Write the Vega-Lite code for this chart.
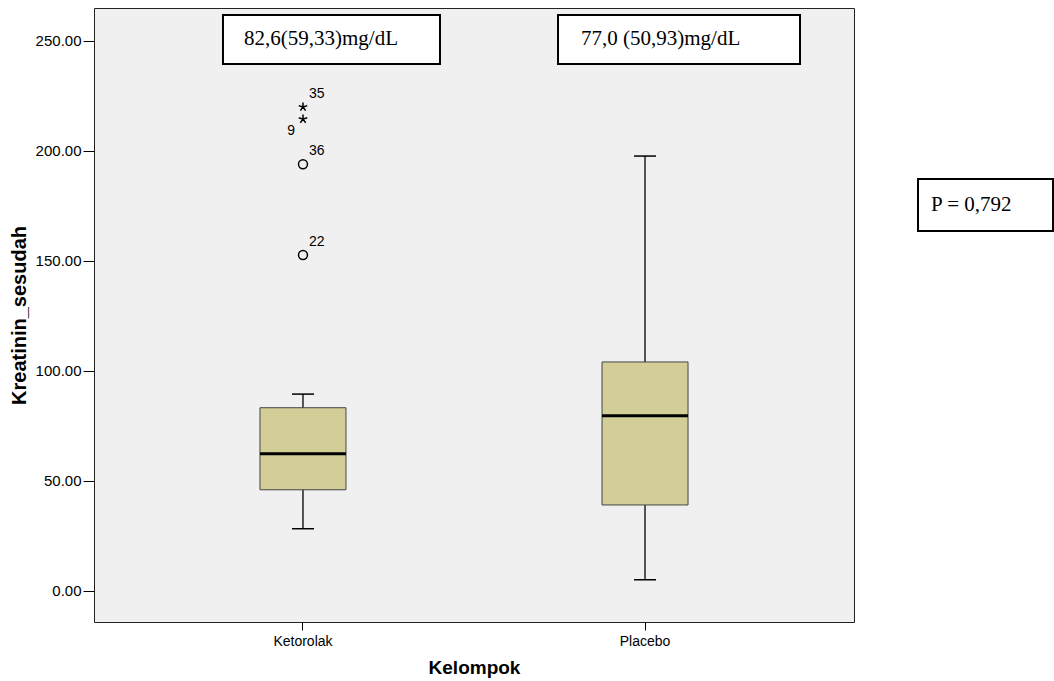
{
  "$schema": "https://vega.github.io/schema/vega-lite/v6.json",
  "padding": {"left": 8, "top": 7, "right": 0, "bottom": 0},
  "background": "white",
  "spacing": 64,
  "bounds": "flush",
  "config": {
    "view": {"fill": "#f0f0f0", "stroke": "#222222", "strokeWidth": 1},
    "font": "Liberation Sans",
    "axis": {"labelFont": "Liberation Sans", "titleFont": "Liberation Sans", "labelColor": "#000000", "titleColor": "#000000", "tickColor": "#000000", "grid": false, "domain": false}
  },
  "datasets": {
    "stats": [
      {"group": "Ketorolak", "lower": 28.3, "q1": 46.0, "median": 62.4, "q3": 83.3, "upper": 89.5},
      {"group": "Placebo", "lower": 5.1, "q1": 39.1, "median": 79.7, "q3": 104.1, "upper": 197.7}
    ],
    "outliers": [
      {"group": "Ketorolak", "id": "35", "value": 220.0, "kind": "extreme"},
      {"group": "Ketorolak", "id": "9", "value": 214.5, "kind": "extreme"},
      {"group": "Ketorolak", "id": "36", "value": 194.0, "kind": "outlier"},
      {"group": "Ketorolak", "id": "22", "value": 152.7, "kind": "outlier"}
    ],
    "annot": [
      {"group": "Ketorolak", "label": "82,6(59,33)mg/dL"},
      {"group": "Placebo", "label": "77,0 (50,93)mg/dL"}
    ],
    "pnote": [
      {"label": "P = 0,792"}
    ]
  },
  "hconcat": [
    {
      "width": 760,
      "height": 614,
      "encoding": {
        "x": {
          "field": "group", "type": "nominal", "title": "Kelompok",
          "scale": {"type": "band", "domain": ["Ketorolak", "Placebo"], "paddingInner": 0, "paddingOuter": 0.111},
          "axis": {"labelAngle": 0, "tickSize": 8, "labelFontSize": 14, "titleFontSize": 19, "titleFontWeight": "bold", "labelPadding": 4, "titlePadding": 10}
        }
      },
      "layer": [
        {
          "data": {"name": "stats"},
          "mark": {"type": "rule", "color": "#000000", "strokeWidth": 1.3},
          "encoding": {
            "y": {"field": "lower", "type": "quantitative", "title": "Kreatinin_sesudah",
              "scale": {"domain": [-14.1, 265], "nice": false, "zero": false},
              "axis": {"values": [0, 50, 100, 150, 200, 250], "format": ".2f", "tickSize": 11, "labelPadding": 2, "labelFontSize": 15, "titleFontSize": 20, "titleFontWeight": "bold", "titlePadding": 6}},
            "y2": {"field": "upper"}
          }
        },
        {
          "data": {"name": "stats"},
          "mark": {"type": "tick", "orient": "horizontal", "size": 22, "thickness": 1.5, "color": "#000000", "opacity": 1},
          "encoding": {"y": {"field": "lower", "type": "quantitative", "title": "Kreatinin_sesudah"}}
        },
        {
          "data": {"name": "stats"},
          "mark": {"type": "tick", "orient": "horizontal", "size": 22, "thickness": 1.5, "color": "#000000", "opacity": 1},
          "encoding": {"y": {"field": "upper", "type": "quantitative", "title": "Kreatinin_sesudah"}}
        },
        {
          "data": {"name": "stats"},
          "mark": {"type": "bar", "width": 86, "fill": "#d3ce97", "stroke": "#444444", "strokeWidth": 1},
          "encoding": {
            "y": {"field": "q1", "type": "quantitative", "title": "Kreatinin_sesudah"},
            "y2": {"field": "q3"}
          }
        },
        {
          "data": {"name": "stats"},
          "mark": {"type": "tick", "orient": "horizontal", "size": 86, "thickness": 3, "color": "#000000", "opacity": 1},
          "encoding": {"y": {"field": "median", "type": "quantitative", "title": "Kreatinin_sesudah"}}
        },
        {
          "data": {"name": "outliers"},
          "mark": {"type": "point", "filled": false, "color": "#000000", "strokeWidth": 1.5, "size": 80, "opacity": 1},
          "encoding": {
            "y": {"field": "value", "type": "quantitative", "title": "Kreatinin_sesudah"},
            "shape": {"field": "kind", "type": "nominal", "legend": null,
              "scale": {"domain": ["outlier", "extreme"], "range": ["circle", "M0,-1L0,0M0,0L0.95,-0.31M0,0L0.59,0.81M0,0L-0.59,0.81M0,0L-0.95,-0.31"]}}
          }
        },
        {
          "data": {"name": "outliers"},
          "transform": [{"filter": "datum.id != '9'"}],
          "mark": {"type": "text", "align": "left", "baseline": "middle", "dx": 6, "dy": -13, "fontSize": 14, "color": "#000000"},
          "encoding": {
            "y": {"field": "value", "type": "quantitative", "title": "Kreatinin_sesudah"},
            "text": {"field": "id"}
          }
        },
        {
          "data": {"name": "outliers"},
          "transform": [{"filter": "datum.id == '9'"}],
          "mark": {"type": "text", "align": "right", "baseline": "middle", "dx": -8, "dy": 12, "fontSize": 14, "color": "#000000"},
          "encoding": {
            "y": {"field": "value", "type": "quantitative", "title": "Kreatinin_sesudah"},
            "text": {"field": "id"}
          }
        },
        {
          "data": {"name": "annot"},
          "transform": [{"filter": "datum.group == 'Ketorolak'"}],
          "mark": {"type": "bar", "width": 217, "xOffset": 28.5, "fill": "white", "stroke": "#000000", "strokeWidth": 2},
          "encoding": {
            "y": {"datum": 261.8, "type": "quantitative", "title": "Kreatinin_sesudah"},
            "y2": {"datum": 239.5}
          }
        },
        {
          "data": {"name": "annot"},
          "transform": [{"filter": "datum.group == 'Ketorolak'"}],
          "mark": {"type": "text", "align": "left", "baseline": "middle", "dx": -59, "font": "Liberation Serif", "fontSize": 21, "color": "#000000"},
          "encoding": {
            "y": {"datum": 250.7, "type": "quantitative", "title": "Kreatinin_sesudah"},
            "text": {"field": "label"}
          }
        },
        {
          "data": {"name": "annot"},
          "transform": [{"filter": "datum.group == 'Placebo'"}],
          "mark": {"type": "bar", "width": 242, "xOffset": 34, "fill": "white", "stroke": "#000000", "strokeWidth": 2},
          "encoding": {
            "y": {"datum": 261.8, "type": "quantitative", "title": "Kreatinin_sesudah"},
            "y2": {"datum": 239.5}
          }
        },
        {
          "data": {"name": "annot"},
          "transform": [{"filter": "datum.group == 'Placebo'"}],
          "mark": {"type": "text", "align": "left", "baseline": "middle", "dx": -64, "font": "Liberation Serif", "fontSize": 21, "color": "#000000"},
          "encoding": {
            "y": {"datum": 250.7, "type": "quantitative", "title": "Kreatinin_sesudah"},
            "text": {"field": "label"}
          }
        }
      ]
    },
    {
      "width": 135,
      "height": 614,
      "view": {"stroke": null, "fill": null},
      "data": {"name": "pnote"},
      "layer": [
        {
          "mark": {"type": "rect", "fill": "white", "stroke": "#000000", "strokeWidth": 2},
          "encoding": {
            "x": {"datum": 0, "type": "quantitative", "scale": {"domain": [0, 1], "nice": false}, "axis": null},
            "x2": {"datum": 1},
            "y": {"datum": 187.3, "type": "quantitative", "scale": {"domain": [-14.1, 265], "nice": false, "zero": false}, "axis": null},
            "y2": {"datum": 163.6}
          }
        },
        {
          "mark": {"type": "text", "align": "left", "baseline": "middle", "dx": 13, "font": "Liberation Serif", "fontSize": 21, "color": "#000000"},
          "encoding": {
            "x": {"datum": 0, "type": "quantitative", "scale": {"domain": [0, 1], "nice": false}, "axis": null},
            "y": {"datum": 175.5, "type": "quantitative", "scale": {"domain": [-14.1, 265], "nice": false, "zero": false}, "axis": null},
            "text": {"field": "label"}
          }
        }
      ]
    }
  ]
}
